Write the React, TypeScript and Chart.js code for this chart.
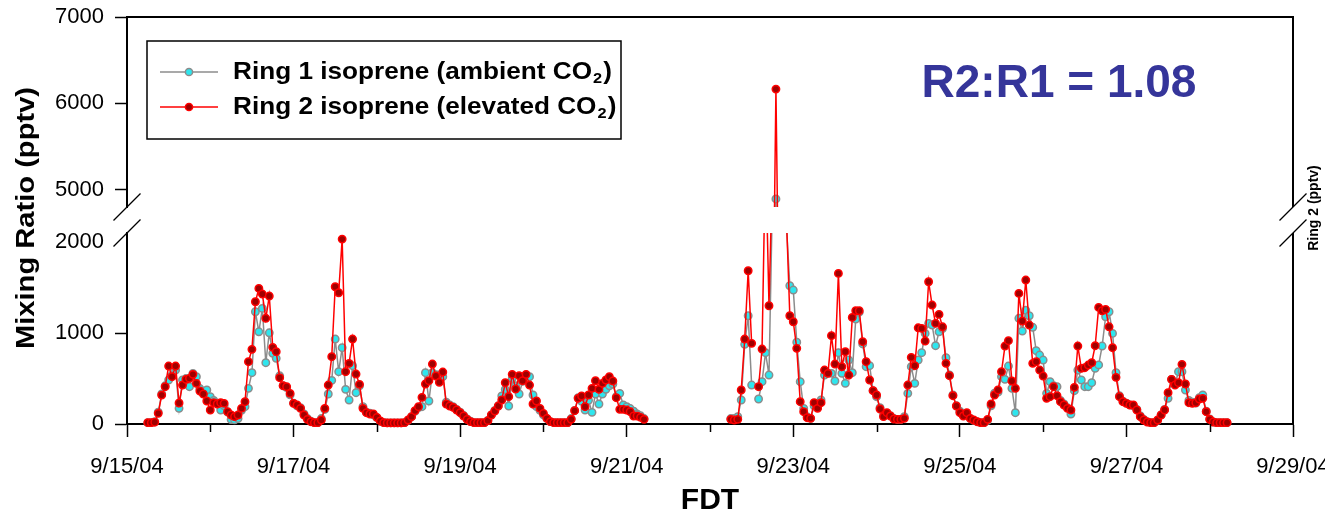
import React, { useEffect, useRef } from 'react';
import { Chart, registerables } from 'chart.js';

Chart.register(...registerables);

// Hourly samples; x is measured in days after 9/15/04 00:00
const SEG1_START_DAY = 0.25; // 9/15/04 06:00
const SEG2_START_DAY = 7.25; // 9/22/04 06:00

const RING2_SEG1 = [
  15, 15, 20, 117, 318, 410, 637, 520, 637, 231,
  428, 491, 502, 546, 447, 363, 330, 253, 154, 234,
  220, 234, 227, 135, 99, 81, 99, 172, 245, 685,
  821, 1344, 1491, 1429, 1162, 1407, 843, 795, 509, 421,
  410, 337, 227, 209, 172, 99, 51, 25, 15, 15,
  44, 172, 428, 740, 1509, 1443, 2033, 575, 667, 934,
  549, 436, 172, 124, 110, 110, 73, 33, 15, 12,
  12, 12, 12, 12, 15, 44, 81, 146, 190, 293,
  440, 476, 659, 527, 458, 571, 220, 198, 183, 154,
  124, 88, 51, 26, 15, 15, 15, 15, 37, 99,
  143, 198, 264, 454, 300, 546, 385, 531, 476, 546,
  428, 220, 253, 172, 117, 62, 26, 15, 15, 15,
  15, 15, 51, 146, 282, 308, 190, 319, 392, 476,
  381, 447, 484, 520, 473, 289, 161, 161, 154, 135,
  88, 88, 73, 51,
];

const RING1_SEG1 = [
  15, 15, 25, 130, 330, 420, 484, 540, 593, 172,
  484, 500, 410, 557, 520, 390, 350, 374, 300, 260,
  230, 154, 200, 130, 49, 45, 60, 150, 190, 392,
  564, 1234, 1014, 1271, 674, 1003, 777, 722, 530, 420,
  400, 320, 230, 200, 180, 110, 60, 30, 15, 15,
  60, 160, 330, 480, 934, 575, 839, 381, 264, 641,
  344, 420, 190, 130, 120, 100, 70, 30, 15, 12,
  12, 12, 12, 12, 15, 40, 80, 140, 180, 190,
  564, 253, 564, 542, 540, 520, 240, 210, 190, 160,
  130, 95, 55, 30, 15, 15, 15, 15, 40, 100,
  150, 200, 308, 380, 198, 500, 420, 330, 470, 540,
  520, 319, 190, 150, 100, 60, 26, 15, 15, 15,
  15, 15, 60, 150, 290, 250, 154, 260, 128, 330,
  220, 330, 381, 420, 440, 300, 337, 210, 190, 170,
  140, 110, 90, 60,
];

const RING2_SEG2 = [
  51, 44, 51, 374, 934, 1685, 887, null, 410, 824,
  3000, 1300, 2800, 6165, 3000, 2600, 2300, 1190, 1124, 832,
  245, 135, 69, 62, 234, 172, 234, 593, 557, 971,
  659, 1656, 630, 795, 538, 1172, 1245, 1245, 905, 685,
  484, 366, 319, 165, 81, 124, 88, 55, 51, 51,
  62, 428, 733, 641, 1058, 1051, 912, 1564, 1308, 1106,
  1205, 1069, 667, 531, 311, 198, 124, 88, 124, 62,
  44, 25, 15, 15, 51, 220, 319, 374, 575, 857,
  916, 473, 392, 1436, 1132, 1583, 1088, 667, 685, 593,
  527, 282, 300, 410, 311, 245, 209, 172, 154, 403,
  857, 612, 619, 648, 674, 861, 1282, 1245, 1260, 1069,
  839, 513, 300, 245, 227, 209, 209, 154, 80, 44,
  22, 15, 15, 44, 99, 154, 344, 491, 428, 454,
  656, 440, 234, 227, 234, 275, 282, 135, 51, 22,
  15, 15, 15, 15,
];

const RING1_SEG2 = [
  60, 60, 80, 264, 876, 1190, 428, null, 275, 465,
  784, 538, 2500, 4893, 2800, 2500, 2200, 1520, 1473, 900,
  465, 172, 80, 62, 200, 180, 264, 538, 560, 557,
  473, 784, 557, 447, 703, 564, 1154, 1230, 880, 630,
  641, 366, 300, 180, 100, 110, 90, 60, 50, 50,
  80, 337, 630, 447, 703, 784, 996, 1106, 1088, 861,
  1014, 1050, 729, 540, 320, 200, 140, 100, 110, 60,
  40, 25, 15, 15, 40, 200, 340, 350, 520, 491,
  637, 392, 124, 1162, 1022, 1250, 1190, 1063, 806, 758,
  703, 337, 465, 421, 410, 260, 220, 180, 110, 366,
  593, 484, 410, 410, 454, 612, 650, 857, 1179, 1234,
  996, 564, 310, 250, 230, 210, 200, 160, 90, 50,
  25, 15, 15, 40, 100, 160, 282, 491, 440, 575,
  575, 374, 260, 240, 230, 290, 319, 140, 55, 22,
  15, 15, 15, 15,
];

const X_TICK_DAYS = [0, 2, 4, 6, 8, 10, 12, 14];
const X_TICK_LABELS = ['9/15/04', '9/17/04', '9/19/04', '9/21/04', '9/23/04', '9/25/04', '9/27/04', '9/29/04'];
const X_MINOR_DAYS = [1, 3, 5, 7, 9, 11, 13];
const Y_LOWER_TICKS = [0, 1000, 2000];
const Y_UPPER_TICKS = [5000, 6000, 7000];
const Y_LOWER_RANGE = [0, 2100];
const Y_UPPER_RANGE = [4800, 7000];

const LEGEND_ITEMS = [
  { text: 'Ring 1 isoprene (ambient CO', sub: '2', tail: ')', line: '#8c8c8c', fill: '#2ee6ee', edge: '#8c8c8c' },
  { text: 'Ring 2 isoprene (elevated CO', sub: '2', tail: ')', line: '#ff0000', fill: '#a00000', edge: '#ff0000' },
];
const RATIO_TEXT = 'R2:R1 = 1.08';
const Y_TITLE = 'Mixing Ratio (pptv)';
const Y2_TITLE = 'Ring 2 (pptv)';
const X_TITLE = 'FDT';

const FONT = "'Liberation Sans', Arial, Helvetica, sans-serif";

function toPoints(start: number, values: (number | null)[]) {
  return values.map((v, i) => ({ x: start + i / 24, y: v }));
}

const ring1Points = [...toPoints(SEG1_START_DAY, RING1_SEG1), ...toPoints(SEG2_START_DAY, RING1_SEG2)];
const ring2Points = [...toPoints(SEG1_START_DAY, RING2_SEG1), ...toPoints(SEG2_START_DAY, RING2_SEG2)];

const decorPlugin = {
  id: 'decor',
  beforeDatasetDraw(chart: any, args: any) {
    const meta = args.meta;
    const ys = chart.scales[meta.yAxisID];
    const a = chart.chartArea;
    const ctx = chart.ctx;
    const isTop = meta.yAxisID === 'yTop';
    const top = isTop ? ys.top - 8 : ys.top;
    const bottom = isTop ? ys.bottom : ys.bottom + 8;
    ctx.save();
    ctx.beginPath();
    ctx.rect(a.left, top, a.right - a.left, bottom - top);
    ctx.clip();
  },
  afterDatasetDraw(chart: any) {
    chart.ctx.restore();
  },
  afterDraw(chart: any) {
    const ctx = chart.ctx;
    const a = chart.chartArea;
    const yTop = chart.scales.yTop;
    const yBottom = chart.scales.yBottom;
    const xs = chart.scales.x;
    ctx.save();
    ctx.strokeStyle = '#000';
    ctx.lineCap = 'butt';

    // top border
    ctx.lineWidth = 2;
    ctx.beginPath();
    ctx.moveTo(a.left - 1, a.top);
    ctx.lineTo(a.right + 1, a.top);
    ctx.stroke();
    // right border (broken)
    ctx.beginPath();
    ctx.moveTo(a.right, a.top);
    ctx.lineTo(a.right, yTop.bottom);
    ctx.moveTo(a.right, yBottom.top);
    ctx.lineTo(a.right, a.bottom);
    ctx.stroke();

    // break marks
    ctx.lineWidth = 1.2;
    for (const x of [a.left, a.right]) {
      for (const y of [yTop.bottom, yBottom.top]) {
        ctx.beginPath();
        ctx.moveTo(x - 13.5, y + 13.5);
        ctx.lineTo(x + 13.5, y - 13.5);
        ctx.stroke();
      }
    }

    // minor x ticks
    ctx.lineWidth = 1.5;
    for (const d of X_MINOR_DAYS) {
      const px = Math.round(xs.getPixelForValue(d)) + 0.5;
      ctx.beginPath();
      ctx.moveTo(px, a.bottom);
      ctx.lineTo(px, a.bottom + 8);
      ctx.stroke();
    }

    // legend
    const lx = a.left + 20;
    const ly = a.top + 24;
    ctx.fillStyle = '#fff';
    ctx.fillRect(lx, ly, 474, 98);
    ctx.lineWidth = 1.5;
    ctx.strokeStyle = '#000';
    ctx.strokeRect(lx, ly, 474, 98);
    LEGEND_ITEMS.forEach((it, i) => {
      const ry = ly + 31 + i * 35;
      ctx.strokeStyle = it.line;
      ctx.lineWidth = 1.5;
      ctx.beginPath();
      ctx.moveTo(lx + 13, ry);
      ctx.lineTo(lx + 71, ry);
      ctx.stroke();
      ctx.beginPath();
      ctx.arc(lx + 42, ry, 3.6, 0, Math.PI * 2);
      ctx.fillStyle = it.fill;
      ctx.fill();
      ctx.strokeStyle = it.edge;
      ctx.stroke();
      ctx.save();
      ctx.translate(lx + 86, ry);
      ctx.scale(1.09, 1);
      ctx.fillStyle = '#000';
      ctx.textAlign = 'left';
      ctx.textBaseline = 'middle';
      ctx.font = `bold 24px ${FONT}`;
      let tx = 0;
      ctx.fillText(it.text, tx, 0);
      tx += ctx.measureText(it.text).width;
      ctx.font = `bold 15px ${FONT}`;
      ctx.fillText(it.sub, tx + 1, 7);
      tx += ctx.measureText(it.sub).width + 2;
      ctx.font = `bold 24px ${FONT}`;
      ctx.fillText(it.tail, tx, 0);
      ctx.restore();
    });

    // ratio annotation
    ctx.fillStyle = '#35359a';
    ctx.font = `bold 46px ${FONT}`;
    ctx.textAlign = 'center';
    ctx.textBaseline = 'alphabetic';
    ctx.fillText(RATIO_TEXT, 1059, 97);

    // axis titles
    ctx.fillStyle = '#000';
    ctx.font = `bold 26px ${FONT}`;
    ctx.save();
    ctx.translate(27, 218);
    ctx.rotate(-Math.PI / 2);
    ctx.scale(1.12, 1);
    ctx.textAlign = 'center';
    ctx.textBaseline = 'middle';
    ctx.fillText(Y_TITLE, 0, 0);
    ctx.restore();

    ctx.font = `bold 14px ${FONT}`;
    ctx.save();
    ctx.translate(1314, 208);
    ctx.rotate(-Math.PI / 2);
    ctx.textAlign = 'center';
    ctx.textBaseline = 'middle';
    ctx.fillText(Y2_TITLE, 0, 0);
    ctx.restore();

    ctx.font = `bold 30px ${FONT}`;
    ctx.textAlign = 'center';
    ctx.textBaseline = 'alphabetic';
    ctx.fillText(X_TITLE, (a.left + a.right) / 2, 509);

    ctx.restore();
  },
};

const tickFont = { family: FONT, size: 22 };

function yScale(range: number[], ticks: number[], weight: number, stackWeight: number) {
  return {
    type: 'linear',
    position: 'left',
    stack: 'left',
    stackWeight,
    weight,
    min: range[0],
    max: range[1],
    afterBuildTicks: (s: any) => {
      s.ticks = ticks.map((value) => ({ value }));
    },
    afterFit: (s: any) => {
      s.width = 127;
      s.paddingTop = 0;
      s.paddingBottom = 0;
    },
    ticks: {
      autoSkip: false,
      callback: (v: any) => String(v),
      font: tickFont,
      color: '#000',
      padding: 11,
    },
    grid: {
      drawOnChartArea: false,
      tickLength: 12,
      tickWidth: 1.5,
      tickColor: (c: any) => (c.tick && c.tick.value === 2000 ? 'rgba(0,0,0,0)' : '#000'),
    },
    border: { color: '#000', width: 2 },
  };
}

export default function App() {
  const ref = useRef<HTMLCanvasElement>(null);

  useEffect(() => {
    if (!ref.current) return;
    const common = { tension: 0, pointRadius: 3.7, pointBorderWidth: 1.5, borderWidth: 1.5, clip: false as any };
    const red = { borderColor: '#ff0000', pointBackgroundColor: '#a00000', pointBorderColor: '#ff0000' };
    const cyan = { borderColor: '#8c8c8c', pointBackgroundColor: '#2ee6ee', pointBorderColor: '#8c8c8c' };
    const chart = new Chart(ref.current, {
      type: 'line',
      data: {
        datasets: [
          { label: 'Ring 2 low', data: ring2Points, yAxisID: 'yBottom', ...common, ...red },
          { label: 'Ring 2 high', data: ring2Points, yAxisID: 'yTop', ...common, ...red },
          { label: 'Ring 1 low', data: ring1Points, yAxisID: 'yBottom', ...common, ...cyan },
          { label: 'Ring 1 high', data: ring1Points, yAxisID: 'yTop', ...common, ...cyan },
        ] as any,
      },
      options: {
        animation: false,
        responsive: true,
        maintainAspectRatio: false,
        events: [],
        spanGaps: 0.1,
        layout: { padding: { left: 0, right: 32, top: 17, bottom: 0 } },
        plugins: { legend: { display: false }, tooltip: { enabled: false }, title: { display: false } },
        scales: {
          x: {
            type: 'linear',
            min: 0,
            max: 14,
            afterFit: (s: any) => {
              s.height = 85;
              s.paddingLeft = 0;
              s.paddingRight = 0;
            },
            ticks: {
              stepSize: 1,
              autoSkip: false,
              maxRotation: 0,
              minRotation: 0,
              font: tickFont,
              color: '#000',
              padding: 17,
              callback: (v: any) => {
                const k = X_TICK_DAYS.indexOf(Number(v));
                return k >= 0 ? X_TICK_LABELS[k] : '';
              },
            },
            grid: {
              drawOnChartArea: false,
              tickLength: 13,
              tickWidth: 1.5,
              tickColor: (c: any) => (c.tick && X_TICK_DAYS.includes(c.tick.value) ? '#000' : 'rgba(0,0,0,0)'),
            },
            border: { color: '#000', width: 2 },
          },
          yTop: yScale(Y_UPPER_RANGE, Y_UPPER_TICKS, 3, 190),
          yGap: {
            type: 'linear',
            position: 'left',
            stack: 'left',
            stackWeight: 26,
            weight: 2,
            min: 0,
            max: 1,
            afterFit: (s: any) => {
              s.width = 127;
              s.paddingTop = 0;
              s.paddingBottom = 0;
            },
            ticks: { display: false },
            grid: { display: false },
            border: { display: false },
          },
          yBottom: yScale(Y_LOWER_RANGE, Y_LOWER_TICKS, 1, 191),
        } as any,
      },
      plugins: [decorPlugin],
    });
    return () => chart.destroy();
  }, []);

  return (
    <div style={{ position: 'absolute', left: 0, top: 0, width: 1325, height: 509, background: '#fff' }}>
      <canvas ref={ref} />
    </div>
  );
}
